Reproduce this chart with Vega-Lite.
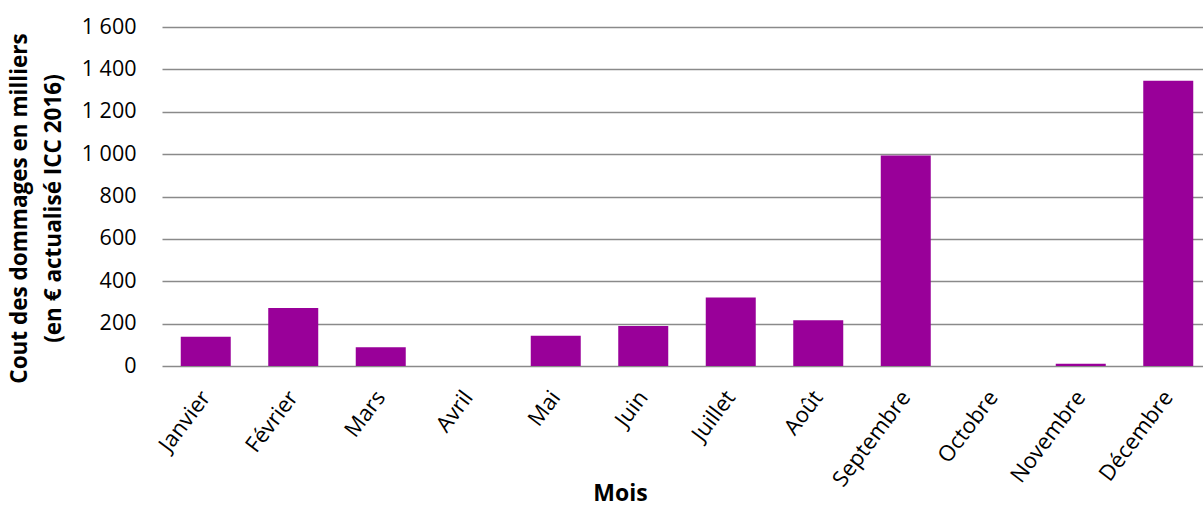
{
  "$schema": "https://vega.github.io/schema/vega-lite/v6.json",
  "autosize": {"type": "none"},
  "padding": {"left": 162, "top": 27, "right": 0, "bottom": 141},
  "width": 1041,
  "height": 339,
  "background": "white",
  "config": {
    "view": {"stroke": null},
    "font": "Open Sans",
    "axis": {"labelFont": "Open Sans", "titleFont": "Open Sans", "labelColor": "#000000", "titleColor": "#000000"}
  },
  "data": {
    "values": [
      {"mois": "Janvier", "cout": 138},
      {"mois": "Février", "cout": 274},
      {"mois": "Mars", "cout": 88},
      {"mois": "Avril", "cout": 0},
      {"mois": "Mai", "cout": 143},
      {"mois": "Juin", "cout": 189},
      {"mois": "Juillet", "cout": 323},
      {"mois": "Août", "cout": 216},
      {"mois": "Septembre", "cout": 993},
      {"mois": "Octobre", "cout": 0},
      {"mois": "Novembre", "cout": 11},
      {"mois": "Décembre", "cout": 1346}
    ]
  },
  "mark": {"type": "bar", "color": "#990099"},
  "encoding": {
    "x": {
      "field": "mois",
      "type": "nominal",
      "sort": null,
      "scale": {"paddingInner": 0.4286, "paddingOuter": 0.1628, "align": 0.658},
      "axis": {
        "title": "Mois",
        "titleFontSize": 23,
        "titleFontWeight": "bold",
        "titleBaseline": "alphabetic",
        "titleX": 458,
        "titleY": 134,
        "labelAngle": -53,
        "labelFontSize": 22,
        "labelPadding": 27,
        "ticks": false,
        "tickSize": 0,
        "domain": false,
        "grid": false
      }
    },
    "y": {
      "field": "cout",
      "type": "quantitative",
      "scale": {"domain": [0, 1600], "nice": false},
      "axis": {
        "title": ["Cout des dommages en milliers", "(en € actualisé ICC 2016)"],
        "titleFontSize": 22.5,
        "titleFontWeight": "bold",
        "titleLineHeight": 34,
        "titleX": -136,
        "titleY": 181,
        "titleAngle": -90,
        "titleAlign": "center",
        "titleBaseline": "alphabetic",
        "values": [0, 200, 400, 600, 800, 1000, 1200, 1400, 1600],
        "labelExpr": "replace(format(datum.value, ','), ',', ' ')",
        "labelFontSize": 21.5,
        "labelPadding": 26,
        "ticks": false,
        "tickSize": 0,
        "domain": false,
        "grid": true,
        "gridColor": "#8a8a8a",
        "gridWidth": 1.5
      }
    }
  }
}
